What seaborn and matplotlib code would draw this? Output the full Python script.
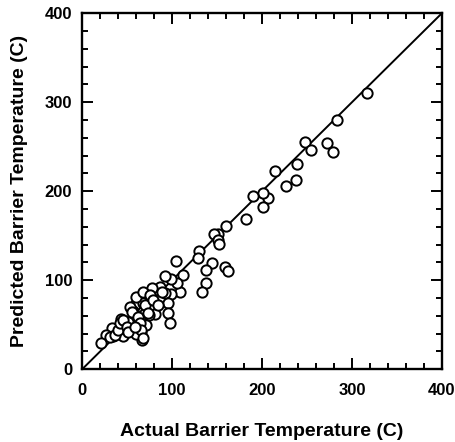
import matplotlib
matplotlib.use("Agg")
import matplotlib.pyplot as plt
import seaborn as sns
import pandas as pd
import numpy as np
from matplotlib.ticker import MultipleLocator

actual = [316.5, 283.8, 272, 279, 248, 255, 238.5, 237.4, 227, 214, 207, 201, 201, 189.6, 182,
          160, 151, 147, 151, 152, 130, 129, 144.7, 138, 137.6, 132.8, 158.8, 162.5,
          104, 111.7, 108.7, 105, 99.4, 92, 99.4, 92.7, 95.7, 95.7, 97.6, 86.4, 78,
          70.5, 64, 58.6, 56.8, 68, 78, 81.6, 74.6, 71.6, 63.4, 66, 67, 60.5, 56.8,
          51, 51, 43.8, 43.8, 45.6, 36.4, 33, 34.5, 27, 21.5,
          30.8, 36.4, 40, 42, 45.6, 49.4, 51.2, 53, 55, 60.5, 62.3, 64.2, 66, 68, 68,
          69.8, 73.4, 75.3, 79, 84.6, 88.4, 58.7]
predicted = [310, 280, 254, 244, 255, 246, 231, 213, 206, 223, 193, 198, 182, 195, 169,
             161, 152, 152, 145, 141, 133, 125, 119, 111, 97, 86.5, 115, 110,
             122, 106, 87, 97, 102, 105, 85, 86, 75, 63, 52, 93, 91,
             85, 81, 72, 65, 74, 70, 62, 61, 50, 52, 42, 33, 40, 55,
             44, 53.5, 56, 50, 37, 44, 46, 37, 38.6, 30,
             36.6, 38.5, 44, 51.7, 55.4, 47.9, 42, 70, 64.7, 81.6, 59, 51.7, 44, 35, 87,
             72, 63, 83.5, 78, 72, 87, 47.9]

df = pd.DataFrame({"Actual": actual, "Predicted": predicted})

sns.set_style("ticks")
plt.rcParams['font.family'] = ['Liberation Sans', 'DejaVu Sans']
plt.rcParams['font.weight'] = 'bold'
plt.rcParams['text.color'] = 'black'
plt.rcParams['axes.labelcolor'] = 'black'
plt.rcParams['xtick.color'] = 'black'
plt.rcParams['ytick.color'] = 'black'
plt.rcParams['axes.edgecolor'] = 'black'

fig = plt.figure(figsize=(4.56, 4.42), dpi=100)
ax = fig.add_axes([0.180, 0.1645, 0.789, 0.8055])

ax.plot([0, 400], [0, 400], color='black', lw=1.4, zorder=1)
sns.scatterplot(data=df, x="Actual", y="Predicted", ax=ax, marker='o', s=55,
                facecolor='white', edgecolor='black', linewidth=1.4, zorder=2, legend=False)

ax.set_xlim(0, 400)
ax.set_ylim(0, 400)
ax.xaxis.set_major_locator(MultipleLocator(100))
ax.yaxis.set_major_locator(MultipleLocator(100))
ax.xaxis.set_minor_locator(MultipleLocator(20))
ax.yaxis.set_minor_locator(MultipleLocator(20))
ax.tick_params(which='both', direction='in', top=True, right=True, width=1.4, labelsize=12,
               colors='black')
ax.tick_params(which='major', length=8)
ax.tick_params(which='minor', length=4.5)
ax.tick_params(axis='x', which='major', pad=10)
ax.tick_params(axis='y', which='major', pad=7)
for sp in ax.spines.values():
    sp.set_linewidth(1.7)
    sp.set_color('black')
    sp.set_visible(True)

ax.set_xlabel("Actual Barrier Temperature (C)", fontsize=14, fontweight='bold', labelpad=18,
              color='black')
ax.set_ylabel("Predicted Barrier Temperature (C)", fontsize=14, fontweight='bold', labelpad=12,
              color='black')

fig.savefig("out.png", dpi=100)
